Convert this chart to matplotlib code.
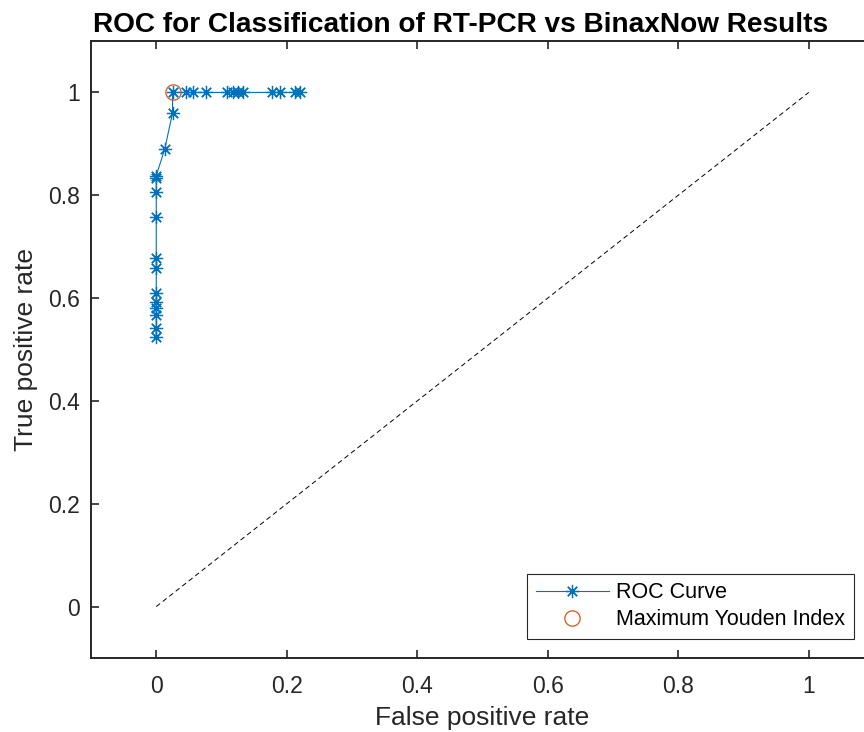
import numpy as np
import matplotlib
matplotlib.use("Agg")
import matplotlib.pyplot as plt

plt.rcParams['font.family'] = ['Liberation Sans', 'DejaVu Sans']

# ROC points
fpr = [0, 0, 0, 0, 0, 0, 0, 0, 0, 0, 0, 0,
       0.013, 0.025, 0.025, 0.046, 0.056, 0.077, 0.108, 0.118,
       0.125, 0.133, 0.177, 0.189, 0.212, 0.220]
tpr = [0.525, 0.541, 0.567, 0.580, 0.593, 0.609, 0.658, 0.677,
       0.758, 0.807, 0.833, 0.838, 0.890, 0.960, 1, 1, 1, 1, 1, 1,
       1, 1, 1, 1, 1, 1]
youden_fpr = [0.025]
youden_tpr = [1.0]
chance = [0, 1]

ticks = [0, 0.2, 0.4, 0.6, 0.8, 1]
tick_labels = ["0", "0.2", "0.4", "0.6", "0.8", "1"]

blue = "#0072BD"
orange = "#D95319"
grey = "#262626"

fig = plt.figure(figsize=(8.64, 7.32), dpi=100)
ax = fig.add_axes([91/864, 1-658/732, (874-91)/864, (658-41)/732])

ax.plot(fpr, tpr, color=blue, lw=0.8, marker=(8, 2, 0), markersize=9.5,
        markeredgewidth=0.9, label="ROC Curve")
ax.plot(youden_fpr, youden_tpr, ls="None", marker="o", markersize=11,
        markerfacecolor="none", markeredgecolor=orange, markeredgewidth=0.9,
        label="Maximum Youden Index")
ax.plot(chance, chance, color="black", ls=(0, (5, 3.5)), lw=0.7)

ax.set_xlim(-0.1, 1.1)
ax.set_ylim(-0.1, 1.1)
ax.set_xticks(ticks, tick_labels)
ax.set_yticks(ticks, tick_labels)
ax.tick_params(direction="in", top=True, right=True, length=6, width=1.2,
               labelsize=16.5, colors=grey, labelcolor=grey)
ax.tick_params(axis="x", pad=12)
ax.tick_params(axis="y", pad=8)
for s in ax.spines.values():
    s.set_linewidth(1.4)
    s.set_color(grey)

ax.set_xlabel("False positive rate", fontsize=19, color=grey, labelpad=6)
ax.set_ylabel("True positive rate", fontsize=19, color=grey, labelpad=7)
fig.text(461/864, 1-32/732, "ROC for Classification of RT-PCR vs BinaxNow Results",
         ha="center", va="baseline", fontsize=20.2, fontweight="bold", color="black")

leg = ax.legend(loc="lower right", bbox_to_anchor=(854/864, 1-639/732),
                bbox_transform=fig.transFigure, fontsize=15.5, frameon=True,
                fancybox=False, framealpha=1, borderpad=0.4, labelspacing=0.28,
                handlelength=3.4, handletextpad=0.35, borderaxespad=0)
leg.get_frame().set_edgecolor(grey)
leg.get_frame().set_linewidth(0.8)

fig.savefig("out.png", dpi=100)
